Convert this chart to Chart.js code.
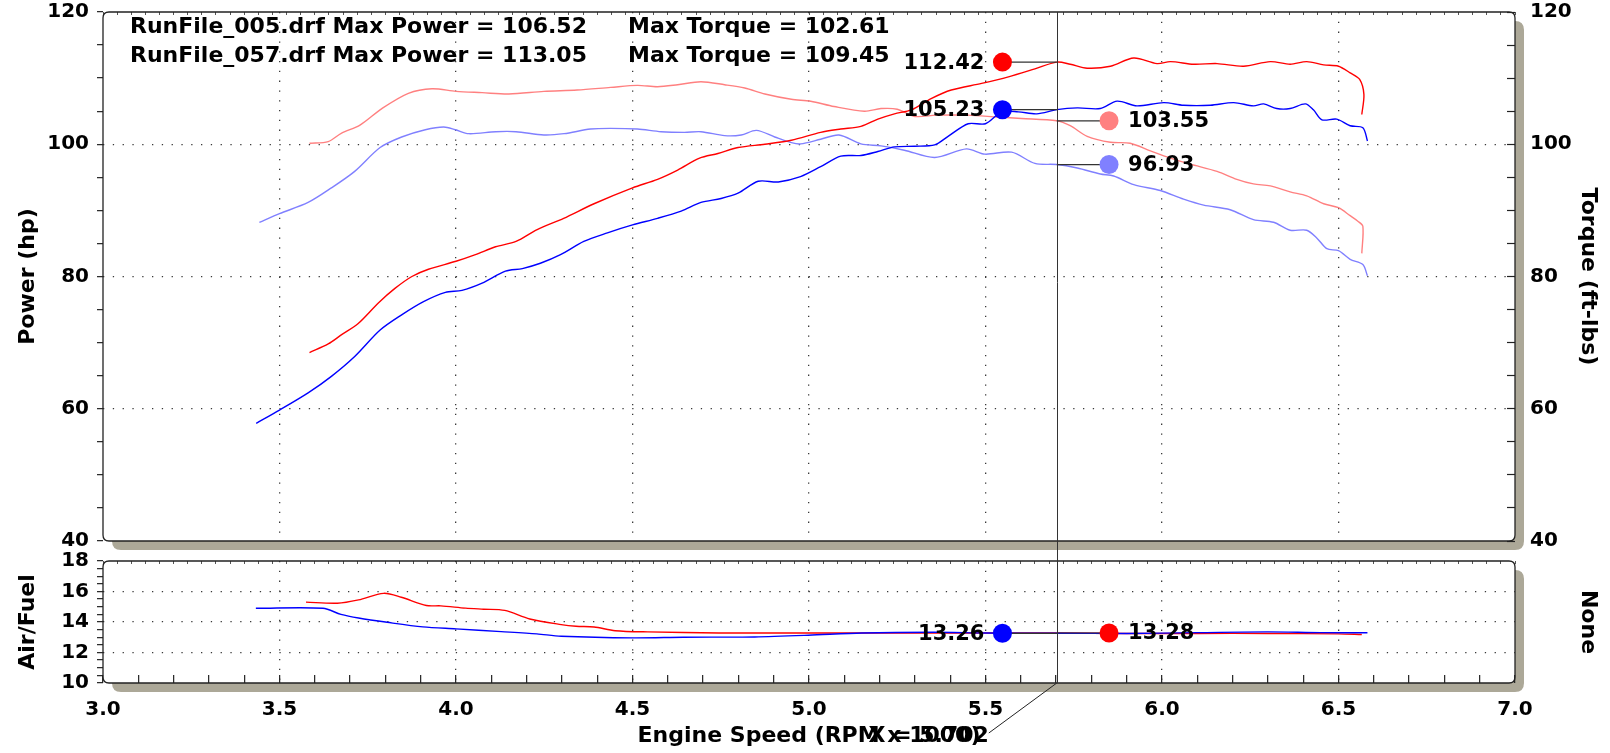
<!DOCTYPE html>
<html><head><meta charset="utf-8">
<script src="https://cdn.jsdelivr.net/npm/chart.js@4/dist/chart.umd.min.js"></script>
<style>
html,body{margin:0;padding:0;background:#fff;width:1610px;height:753px;overflow:hidden}
canvas{position:absolute;left:0}
#c1{top:0}
#c2{top:545px}
</style></head><body>
<canvas id="c1" width="1610" height="553"></canvas>
<canvas id="c2" width="1610" height="208"></canvas>
<script>
// ---------- DATA ----------
const runFiles = ['RunFile_005.drf', 'RunFile_057.drf'];
const maxPower = [106.52, 113.05];
const maxTorque = [102.61, 109.45];

// RunFile_057 power (red)
const rpm057P = [3.585,3.638,3.676,3.723,3.78,3.827,3.875,3.922,4.0,4.055,4.112,4.17,4.23,4.305,4.391,4.5,4.571,4.628,4.69,4.742,4.799,4.875,4.95,5.033,5.09,5.147,5.195,5.242,5.29,5.346,5.403,5.489,5.565,5.64,5.702,5.74,5.788,5.854,5.92,5.986,6.024,6.09,6.156,6.231,6.307,6.363,6.41,6.458,6.5,6.533,6.56,6.572,6.566];
const power057 = [68.5,69.8,71.2,72.9,76.0,78.2,80.0,81.1,82.3,83.3,84.5,85.3,87.1,88.8,91.0,93.4,94.7,96.1,97.9,98.6,99.5,100.0,100.6,101.8,102.3,102.7,103.8,104.6,105.2,106.9,108.2,109.2,110.2,111.4,112.42,112.1,111.5,111.8,113.05,112.2,112.5,112.1,112.2,111.8,112.5,112.1,112.5,112.0,111.8,110.8,109.8,107.5,104.5];

// RunFile_005 power (blue)
const rpm005P = [3.434,3.5,3.581,3.647,3.713,3.785,3.846,3.908,3.97,4.017,4.074,4.14,4.188,4.239,4.296,4.362,4.429,4.5,4.571,4.638,4.694,4.751,4.799,4.856,4.913,4.976,5.033,5.09,5.147,5.195,5.242,5.299,5.356,5.394,5.451,5.5,5.546,5.593,5.645,5.702,5.76,5.825,5.873,5.929,6.005,6.061,6.137,6.203,6.259,6.288,6.325,6.363,6.406,6.429,6.453,6.495,6.533,6.569,6.582];
const power005 = [57.8,59.8,62.4,64.9,67.9,71.9,74.2,76.2,77.6,77.9,79.0,80.8,81.2,82.0,83.3,85.3,86.6,87.8,88.8,89.9,91.2,91.8,92.6,94.4,94.3,95.1,96.6,98.2,98.3,98.9,99.6,99.7,99.9,101.2,103.1,103.1,104.9,104.9,104.6,105.23,105.5,105.4,106.52,105.8,106.3,105.9,105.9,106.3,105.8,106.1,105.4,105.4,106.1,105.2,103.7,103.8,102.8,102.5,100.5];

// RunFile_057 torque (light red)
const rpm057T = [3.585,3.638,3.676,3.728,3.79,3.865,3.932,4.0,4.074,4.15,4.249,4.343,4.438,4.514,4.571,4.628,4.694,4.761,4.818,4.875,4.95,5.005,5.071,5.157,5.204,5.25,5.3,5.36,5.45,5.536,5.602,5.702,5.74,5.788,5.854,5.91,5.967,6.024,6.08,6.156,6.212,6.259,6.307,6.363,6.41,6.458,6.5,6.533,6.554,6.569,6.566];
const torque057 = [100.15,100.4,101.7,102.9,105.4,107.7,108.4,108.0,107.8,107.6,108.0,108.2,108.6,108.9,108.7,109.0,109.45,109.0,108.5,107.6,106.8,106.5,105.7,105.0,105.4,105.3,104.2,104.4,104.4,104.1,103.9,103.55,102.8,101.2,100.3,100.15,99.0,97.9,97.0,95.9,94.7,94.0,93.7,92.8,92.2,91.0,90.4,89.2,88.4,87.6,83.5];

// RunFile_005 torque (light blue)
const rpm005T = [3.443,3.5,3.581,3.647,3.713,3.785,3.846,3.913,3.965,3.998,4.036,4.112,4.17,4.249,4.306,4.381,4.438,4.514,4.581,4.647,4.694,4.761,4.808,4.851,4.903,4.95,4.976,5.033,5.085,5.147,5.204,5.27,5.356,5.446,5.498,5.574,5.64,5.702,5.76,5.825,5.863,5.92,5.995,6.061,6.118,6.193,6.259,6.316,6.363,6.41,6.439,6.467,6.5,6.533,6.569,6.582];
const torque005 = [88.2,89.5,91.2,93.4,95.9,99.5,101.1,102.2,102.61,102.2,101.6,101.9,101.9,101.4,101.6,102.3,102.4,102.3,101.9,101.8,101.9,101.3,101.4,102.1,101.1,100.25,100.05,100.75,101.4,100.05,99.75,99.1,98.0,99.3,98.5,98.8,97.1,96.93,96.4,95.5,95.2,93.9,93.0,91.7,90.8,90.1,88.6,88.2,87.0,87.0,85.8,84.2,83.9,82.6,81.8,80.1];

// Air/Fuel
const rpm005A = [3.433,3.623,3.674,3.724,3.805,3.906,4.0,4.128,4.229,4.298,4.5,4.644,4.846,4.998,5.15,5.353,5.5,5.702,5.9,6.1,6.3,6.45,6.582];
const afr005 = [14.9,14.9,14.5,14.26,13.98,13.68,13.55,13.37,13.22,13.07,12.96,13.0,13.02,13.13,13.28,13.33,13.28,13.26,13.25,13.3,13.35,13.3,13.3];
const rpm057A = [3.575,3.664,3.724,3.795,3.845,3.916,3.957,4.027,4.078,4.138,4.209,4.298,4.34,4.391,4.451,4.543,4.745,5.0,5.25,5.5,5.702,5.9,6.1,6.3,6.5,6.566];
const afr057 = [15.3,15.23,15.45,15.88,15.62,15.08,15.06,14.91,14.84,14.76,14.2,13.83,13.72,13.67,13.43,13.35,13.28,13.28,13.28,13.28,13.28,13.25,13.25,13.25,13.22,13.18];

// Cursor readouts
const cursorRpm = 5.702;
const leftMarkRpm = 5.548;
const rightMarkRpm = 5.85;
const powerCursor = [112.42, 105.23];   // 057, 005
const torqueCursor = [103.55, 96.93];   // 057, 005
const afrCursor = [13.26, 13.28];       // 005, 057

const xMin = 3, xMax = 7;
const powerMin = 40, powerMax = 120;
const afrMin = 10, afrMax = 18;

// ---------- STYLE ----------
const FONT = '"DejaVu Sans", Verdana, sans-serif';
Chart.defaults.font.family = FONT;
Chart.defaults.font.weight = 'bold';
Chart.defaults.color = '#000';
const RED = '#ff0000', BLUE = '#0000ff', LRED = '#ff8080', LBLUE = '#8080ff';
const gridColor = '#3a3a3a';
const shadowColor = '#aca898';
const LEFT_W = 103, RIGHT_W = 95;

const pts = (xs, ys) => xs.map((x, i) => ({x, y: ys[i]}));
const isHalf = v => Math.abs(v * 2 - Math.round(v * 2)) < 1e-6;
const isInnerHalf = v => isHalf(v) && v > xMin + 0.01 && v < xMax - 0.01;
const noPad = s => { s.paddingTop = 0; s.paddingBottom = 0; s.paddingLeft = 0; s.paddingRight = 0; };

function rr(ctx, x, y, w, h, r) {
  ctx.beginPath();
  ctx.moveTo(x + r, y);
  ctx.lineTo(x + w - r, y); ctx.quadraticCurveTo(x + w, y, x + w, y + r);
  ctx.lineTo(x + w, y + h - r); ctx.quadraticCurveTo(x + w, y + h, x + w - r, y + h);
  ctx.lineTo(x + r, y + h); ctx.quadraticCurveTo(x, y + h, x, y + h - r);
  ctx.lineTo(x, y + r); ctx.quadraticCurveTo(x, y, x + r, y);
  ctx.closePath();
}
const framePlugin = {
  id: 'frame',
  beforeDraw(chart) {
    const a = chart.chartArea, ctx = chart.ctx;
    ctx.save();
    ctx.fillStyle = shadowColor;
    rr(ctx, a.left + 9, a.top + 9, a.right - a.left, a.bottom - a.top, 9);
    ctx.fill();
    ctx.fillStyle = '#fff';
    rr(ctx, a.left, a.top, a.right - a.left, a.bottom - a.top, 6);
    ctx.fill();
    ctx.restore();
  },
  beforeDatasetsDraw(chart) {
    const a = chart.chartArea, ctx = chart.ctx;
    ctx.save();
    ctx.strokeStyle = '#222';
    ctx.lineWidth = 1.3;
    rr(ctx, a.left, a.top, a.right - a.left, a.bottom - a.top, 6);
    ctx.stroke();
    ctx.restore();
  }
};

function lineDs(data, color, axis, width) {
  return {data, borderColor: color, backgroundColor: color, borderWidth: width || 1.4,
    showLine: true, pointRadius: 0, tension: 0.3, yAxisID: axis, fill: false};
}
function markerDs(markRpm, value, color, axis) {
  return {data: [{x: markRpm, y: value}, {x: cursorRpm, y: value}], borderColor: '#333',
    borderWidth: 1.2, showLine: true, tension: 0, pointRadius: [9.5, 0], pointHoverRadius: 0,
    pointBackgroundColor: color, pointBorderColor: color, pointBorderWidth: 0, yAxisID: axis};
}

function topTickAxis() {
  return {type: 'linear', position: 'top', min: xMin, max: xMax,
    afterFit: s => { s.height = 0; noPad(s); },
    ticks: {display: false, stepSize: 0.04},
    grid: {drawOnChartArea: false, drawTicks: true, tickLength: -3, tickColor: '#555', tickWidth: 1},
    border: {display: false}};
}

// callout labels drawn next to marker dots (positions from the chart scales)
function calloutPlugin(items) {
  return {
    id: 'callouts',
    afterDatasetsDraw(chart) {
      const ctx = chart.ctx;
      ctx.save();
      ctx.font = 'bold 21px ' + FONT;
      ctx.fillStyle = '#000';
      ctx.textBaseline = 'middle';
      items.forEach(it => {
        const px = chart.scales.x.getPixelForValue(it.rpm);
        const py = chart.scales[it.axis].getPixelForValue(it.value);
        ctx.textAlign = it.side === 'left' ? 'right' : 'left';
        ctx.fillText(it.value.toFixed(2), px + (it.side === 'left' ? -18 : 19), py + 1);
      });
      ctx.restore();
    }
  };
}

// ---------- TOP CHART ----------
const cursorTop = {
  id: 'cursorTop',
  afterDatasetsDraw(chart) {
    const ctx = chart.ctx, a = chart.chartArea;
    const cx = Math.round(chart.scales.x.getPixelForValue(cursorRpm)) + 0.5;
    ctx.save();
    ctx.strokeStyle = '#333'; ctx.lineWidth = 1;
    ctx.beginPath(); ctx.moveTo(cx, a.top); ctx.lineTo(cx, chart.height); ctx.stroke();
    ctx.restore();
  },
  afterDraw(chart) {
    const ctx = chart.ctx;
    ctx.save();
    ctx.font = 'bold 22px ' + FONT;
    ctx.fillStyle = '#000'; ctx.textBaseline = 'middle'; ctx.textAlign = 'left';
    runFiles.forEach((f, i) => {
      ctx.fillText(f + ' Max Power = ' + maxPower[i].toFixed(2), 130, 27 + i * 29);
      ctx.fillText('Max Torque = ' + maxTorque[i].toFixed(2), 628, 27 + i * 29);
    });
    ctx.restore();
  }
};

new Chart(document.getElementById('c1'), {
  type: 'scatter',
  data: {datasets: [
    markerDs(leftMarkRpm, powerCursor[0], RED, 'y'),
    markerDs(leftMarkRpm, powerCursor[1], BLUE, 'y'),
    markerDs(rightMarkRpm, torqueCursor[0], LRED, 'y2'),
    markerDs(rightMarkRpm, torqueCursor[1], LBLUE, 'y2'),
    lineDs(pts(rpm057P, power057), RED, 'y'),
    lineDs(pts(rpm005P, power005), BLUE, 'y'),
    lineDs(pts(rpm057T, torque057), LRED, 'y2'),
    lineDs(pts(rpm005T, torque005), LBLUE, 'y2')
  ]},
  options: {
    responsive: false, animation: false, events: [],
    layout: {padding: {top: 12, bottom: 12, left: 0, right: 0}},
    plugins: {legend: {display: false}, tooltip: {enabled: false}},
    scales: {
      x: {type: 'linear', position: 'bottom', min: xMin, max: xMax,
        afterFit: s => { s.height = 0; noPad(s); },
        ticks: {display: false, stepSize: 0.5},
        grid: {drawTicks: false, lineWidth: 1.3, color: c => isInnerHalf(c.tick.value) ? gridColor : 'rgba(0,0,0,0)'},
        border: {display: false, dash: [1.3, 8.5]}},
      xTop: topTickAxis(),
      y: {type: 'linear', position: 'left', min: powerMin, max: powerMax,
        afterFit: s => { s.width = LEFT_W; noPad(s); },
        ticks: {stepSize: 5, autoSkip: false, padding: 8, color: '#000', font: {size: 20, weight: 'bold'},
          callback: v => (v % 20 === 0 ? String(v) : '')},
        grid: {lineWidth: 1.3, color: c => (c.tick.value % 20 === 0 && c.tick.value > powerMin && c.tick.value < powerMax) ? gridColor : 'rgba(0,0,0,0)',
          tickColor: '#222', tickLength: 6, tickWidth: 1.2},
        border: {display: false, dash: [1.3, 8.5]},
        title: {display: true, text: 'Power (hp)', color: '#000', font: {size: 22, weight: 'bold'}, padding: {top: 15, bottom: 0}}},
      y2: {type: 'linear', position: 'right', min: powerMin, max: powerMax,
        afterFit: s => { s.width = RIGHT_W; noPad(s); },
        ticks: {stepSize: 5, autoSkip: false, padding: 23, color: '#000', font: {size: 20, weight: 'bold'},
          callback: v => (v % 20 === 0 ? String(v) : '')},
        grid: {drawOnChartArea: false, tickColor: '#222', tickLength: -8, tickWidth: 1.2},
        border: {display: false},
        title: {display: true, text: 'Torque (ft-lbs)', color: '#000', font: {size: 22, weight: 'bold'}, padding: {top: 9, bottom: 0}}}
    }
  },
  plugins: [framePlugin, cursorTop, calloutPlugin([
    {rpm: leftMarkRpm, value: powerCursor[0], axis: 'y', side: 'left'},
    {rpm: leftMarkRpm, value: powerCursor[1], axis: 'y', side: 'left'},
    {rpm: rightMarkRpm, value: torqueCursor[0], axis: 'y2', side: 'right'},
    {rpm: rightMarkRpm, value: torqueCursor[1], axis: 'y2', side: 'right'}
  ])]
});

// ---------- BOTTOM CHART ----------
const cursorBottom = {
  id: 'cursorBottom',
  afterDatasetsDraw(chart) {
    const ctx = chart.ctx, a = chart.chartArea;
    const cx = Math.round(chart.scales.x.getPixelForValue(cursorRpm)) + 0.5;
    ctx.save();
    ctx.strokeStyle = '#333'; ctx.lineWidth = 1;
    ctx.beginPath(); ctx.moveTo(cx, 0); ctx.lineTo(cx, a.bottom); ctx.stroke();
    ctx.restore();
  },
  afterDraw(chart) {
    const ctx = chart.ctx, a = chart.chartArea;
    const cx = chart.scales.x.getPixelForValue(cursorRpm);
    const ex = cx - 68, ey = a.bottom + 50;
    ctx.save();
    ctx.strokeStyle = '#222'; ctx.lineWidth = 1;
    ctx.beginPath(); ctx.moveTo(cx, a.bottom); ctx.lineTo(ex, ey); ctx.stroke();
    ctx.font = 'bold 22px ' + FONT;
    ctx.fillStyle = '#000'; ctx.textAlign = 'right'; ctx.textBaseline = 'middle';
    ctx.fillText('X = ' + cursorRpm.toFixed(3), ex, ey + 3);
    ctx.restore();
  }
};

new Chart(document.getElementById('c2'), {
  type: 'scatter',
  data: {datasets: [
    markerDs(leftMarkRpm, afrCursor[0], BLUE, 'y'),
    markerDs(rightMarkRpm, afrCursor[1], RED, 'y'),
    lineDs(pts(rpm005A, afr005), BLUE, 'y'),
    lineDs(pts(rpm057A, afr057), RED, 'y')
  ]},
  options: {
    responsive: false, animation: false, events: [],
    layout: {padding: {top: 16, bottom: 0, left: 0, right: 0}},
    plugins: {legend: {display: false}, tooltip: {enabled: false}},
    scales: {
      x: {type: 'linear', position: 'bottom', min: xMin, max: xMax,
        afterFit: s => { s.height = 70; noPad(s); },
        ticks: {stepSize: 0.1, autoSkip: false, maxRotation: 0, minRotation: 0, padding: 23,
          color: '#000', font: {size: 20, weight: 'bold'},
          callback: v => (isHalf(v) ? Number(v).toFixed(1) : '')},
        grid: {lineWidth: 1.3, color: c => isInnerHalf(c.tick.value) ? gridColor : 'rgba(0,0,0,0)',
          tickColor: '#222', tickLength: -8, tickWidth: 1.2},
        border: {display: false, dash: [1.3, 8.5]},
        title: {display: true, text: 'Engine Speed (RPM x 1000)', color: '#000', font: {size: 22, weight: 'bold'}, padding: {top: 0, bottom: 4}}},
      xTop: topTickAxis(),
      y: {type: 'linear', position: 'left', min: afrMin, max: afrMax,
        afterFit: s => { s.width = LEFT_W; noPad(s); },
        ticks: {stepSize: 0.5, autoSkip: false, padding: 8, color: '#000', font: {size: 20, weight: 'bold'},
          callback: v => (v % 2 === 0 ? String(v) : '')},
        grid: {lineWidth: 1.3, color: c => (c.tick.value % 2 === 0 && c.tick.value > afrMin && c.tick.value < afrMax) ? gridColor : 'rgba(0,0,0,0)',
          tickColor: '#222', tickLength: 6, tickWidth: 1.2},
        border: {display: false, dash: [1.3, 8.5]},
        title: {display: true, text: 'Air/Fuel', color: '#000', font: {size: 22, weight: 'bold'}, padding: {top: 15, bottom: 0}}},
      yR: {type: 'linear', position: 'right', min: 0, max: 1,
        afterFit: s => { s.width = RIGHT_W; noPad(s); },
        ticks: {display: false},
        grid: {display: false},
        border: {display: false},
        title: {display: true, text: 'None', color: '#000', font: {size: 22, weight: 'bold'}, padding: {top: 9, bottom: 0}}}
    }
  },
  plugins: [framePlugin, cursorBottom, calloutPlugin([
    {rpm: leftMarkRpm, value: afrCursor[0], axis: 'y', side: 'left'},
    {rpm: rightMarkRpm, value: afrCursor[1], axis: 'y', side: 'right'}
  ])]
});
</script>
</body></html>
